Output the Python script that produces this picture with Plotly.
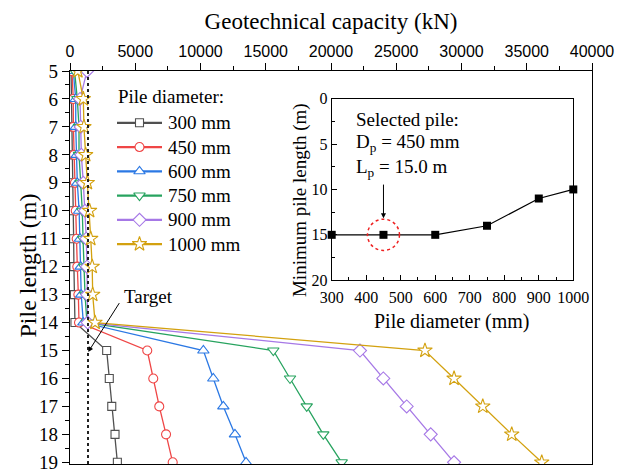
import plotly.graph_objects as go

# ---------------- data ----------------
pile_length_m = [5, 6, 7, 8, 9, 10, 11, 12, 13, 14, 15, 16, 17, 18, 19]
cap_300 = [80, 120, 150, 180, 200, 250, 280, 300, 340, 380, 2810, 3010, 3200, 3450, 3630]
cap_450 = [150, 250, 260, 310, 380, 440, 510, 560, 640, 690, 5920, 6380, 6840, 7360, 7870]
cap_600 = [250, 440, 440, 510, 560, 700, 770, 820, 860, 1020, 10220, 10980, 11750, 12640, 13490]
cap_750 = [350, 560, 690, 690, 820, 940, 1000, 1080, 1150, 1300, 15580, 16860, 18140, 19410, 20820]
cap_900 = [1300, 770, 820, 870, 1020, 1150, 1250, 1300, 1320, 1350, 22220, 24010, 25800, 27640, 29430]
cap_1000 = [600, 1020, 1070, 1200, 1330, 1500, 1590, 1700, 1740, 1920, 27200, 29430, 31630, 33850, 36150]
series_names = ["300 mm", "450 mm", "600 mm", "750 mm", "900 mm", "1000 mm"]
legend_title = "Pile diameter:"

target_kN = 1380
target_span_m = [5, 20]

inset_diameter_mm = [300, 450, 600, 750, 900, 1000]
inset_min_length_m = [15, 15, 15, 14, 11, 10]
selected_d = 450
selected_L = 15.0

# ---------------- styles ----------------
colors = ["#505050", "#ef4646", "#2b78e4", "#27a35f", "#a678e6", "#d3a10f"]
symbols = ["square", "circle", "triangle-up", "triangle-down", "diamond", "star"]
sizes = [8, 9, 10, 10, 10, 11]
SERIF = "Liberation Serif"
SANS = "Liberation Sans"

W, H = 626, 473
L_M, R_M, T_M, B_M = 70, 34, 71, 0
PW, PH = W - L_M - R_M, H - T_M - B_M


def px2paper(px, py):
    return (px - L_M) / PW, (H - py) / PH


fig = go.Figure()

all_caps = [cap_300, cap_450, cap_600, cap_750, cap_900, cap_1000]
for name, caps, c, s, sz in zip(series_names, all_caps, colors, symbols, sizes):
    fig.add_trace(go.Scatter(
        x=caps, y=pile_length_m, mode="lines+markers", name=name, showlegend=False,
        line=dict(color=c, width=1.3),
        marker=dict(symbol=s, size=sz, color="white", line=dict(color=c, width=1.1)),
        xaxis="x", yaxis="y",
    ))

# target line
fig.add_trace(go.Scatter(
    x=[target_kN, target_kN], y=target_span_m, mode="lines", showlegend=False,
    line=dict(color="#222222", width=2, dash="dot"), xaxis="x", yaxis="y",
))

# inset
fig.add_trace(go.Scatter(
    x=inset_diameter_mm, y=inset_min_length_m, mode="lines+markers", showlegend=False,
    line=dict(color="black", width=1.2),
    marker=dict(symbol="square", size=8, color="black"),
    xaxis="x2", yaxis="y2", cliponaxis=False,
))

# legend samples (drawn on a hidden helper axis)
leg_rows = list(range(len(series_names)))
for i, c, s, sz in zip(leg_rows, colors, symbols, sizes):
    fig.add_trace(go.Scatter(x=[0, 1], y=[i, i], mode="lines", showlegend=False,
                             line=dict(color=c, width=2.2), xaxis="x3", yaxis="y3"))
    fig.add_trace(go.Scatter(x=[0.5], y=[i], mode="markers", showlegend=False,
                             marker=dict(symbol=s, size=sz, color="white", line=dict(color=c, width=1.1)),
                             xaxis="x3", yaxis="y3"))

ix0, iy1 = px2paper(331.7, 99.3)
ix1, iy0 = px2paper(573.3, 285)
lx0, ly1 = px2paper(117, 124 - 12.4)
lx1, ly0 = px2paper(162, 248 + 12.4)

hidden = dict(visible=False, showgrid=False, zeroline=False, fixedrange=True)

fig.update_layout(
    width=W, height=H,
    margin=dict(l=L_M, r=R_M, t=T_M, b=B_M, pad=0),
    paper_bgcolor="white", plot_bgcolor="white",
    font=dict(family=SERIF, size=19, color="black"),
    showlegend=False,
    xaxis=dict(
        domain=[0, 1], range=[0, 40000], side="top", anchor="y",
        title=dict(text="Geotechnical capacity (kN)", font=dict(family=SERIF, size=23), standoff=6),
        tickmode="linear", tick0=0, dtick=5000, tickformat="d",
        tickfont=dict(family=SANS, size=16),
        ticks="outside", ticklen=7, tickwidth=1, tickcolor="black",
        minor=dict(dtick=2500, ticks="outside", ticklen=4, tickcolor="black"),
        showline=True, linecolor="black", linewidth=1.2, mirror=True,
        showgrid=False, zeroline=False,
    ),
    yaxis=dict(
        domain=[0, 1], range=[19.06, 5], anchor="x",
        tickmode="linear", tick0=5, dtick=1,
        tickfont=dict(family=SERIF, size=19),
        ticks="outside", ticklen=7, tickwidth=1, tickcolor="black",
        minor=dict(dtick=0.5, ticks="outside", ticklen=4, tickcolor="black"),
        showline=True, linecolor="black", linewidth=1.2, mirror=True,
        showgrid=False, zeroline=False,
    ),
    xaxis2=dict(
        domain=[ix0, ix1], range=[300, 1000], anchor="y2",
        tickmode="linear", tick0=300, dtick=100,
        tickfont=dict(family=SERIF, size=16), ticklabelstandoff=3,
        ticks="inside", ticklen=5, tickcolor="black",
        minor=dict(dtick=50, ticks="inside", ticklen=3, tickcolor="black"),
        showline=True, linecolor="black", linewidth=1, mirror=True,
        showgrid=False, zeroline=False,
    ),
    yaxis2=dict(
        domain=[iy0, iy1], range=[20, 0], anchor="x2",
        tickmode="linear", tick0=0, dtick=5,
        tickfont=dict(family=SERIF, size=16),
        ticks="inside", ticklen=5, tickcolor="black",
        minor=dict(dtick=2.5, ticks="inside", ticklen=3, tickcolor="black"),
        showline=True, linecolor="black", linewidth=1, mirror=True,
        showgrid=False, zeroline=False,
    ),
    xaxis3=dict(domain=[lx0, lx1], range=[0, 1], anchor="y3", **hidden),
    yaxis3=dict(domain=[ly0, ly1], range=[5.5, -0.5], anchor="x3", **hidden),
)

# axis titles placed as text
ax_, ay_ = px2paper(28, 270)
fig.add_annotation(xref="paper", yref="paper", x=ax_, y=ay_, text="Pile length (m)", textangle=-90,
                   showarrow=False, xanchor="center", yanchor="middle", font=dict(family=SERIF, size=24))
ax_, ay_ = px2paper(300, 203)
fig.add_annotation(xref="paper", yref="paper", x=ax_, y=ay_, text="Minimum pile length (m)", textangle=-90,
                   showarrow=False, xanchor="center", yanchor="middle", font=dict(family=SERIF, size=19))
ax_, ay_ = px2paper(452, 327)
fig.add_annotation(xref="paper", yref="paper", x=ax_, y=ay_, text="Pile diameter (mm)",
                   showarrow=False, xanchor="center", yanchor="middle", font=dict(family=SERIF, size=20))

# legend texts
tx, ty = px2paper(116, 97)
fig.add_annotation(xref="paper", yref="paper", x=tx, y=ty, text=legend_title, showarrow=False,
                   xanchor="left", yanchor="middle", font=dict(family=SERIF, size=19))
for i, name in zip(leg_rows, series_names):
    fig.add_annotation(xref="paper", yref="y3", x=px2paper(166, 0)[0], y=i, text=name, showarrow=False,
                       xanchor="left", yanchor="middle", font=dict(family=SERIF, size=19))

# dashed circle around selected pile (radius ~16 px)
rx = 16 * (1000 - 300) / ((ix1 - ix0) * PW)
ry = 16 * 20 / ((iy1 - iy0) * PH)
fig.add_shape(type="circle", xref="x2", yref="y2",
              x0=selected_d - rx, x1=selected_d + rx, y0=selected_L - ry, y1=selected_L + ry,
              line=dict(color="#ee2020", width=1.5, dash="dot"))

# inset arrow
fig.add_annotation(xref="x2", yref="y2", axref="x2", ayref="y2",
                   x=selected_d, y=selected_L - ry - 0.1, ax=selected_d, ay=selected_L - 5.7,
                   text="", showarrow=True, arrowhead=2, arrowsize=1, arrowwidth=1, arrowcolor="black")

# inset text
for txt, py in [("Selected pile:", 121), ("D<sub>p</sub> = 450 mm", 145), ("L<sub>p</sub> = 15.0 m", 170)]:
    xp, yp = px2paper(354, py)
    fig.add_annotation(xref="paper", yref="paper", x=xp, y=yp, xanchor="left", yanchor="middle",
                       text=txt, showarrow=False, font=dict(family=SERIF, size=19))

# target annotation
fig.add_annotation(xref="x", yref="y", axref="x", ayref="y",
                   x=target_kN + 20, y=15.05, ax=3850, ay=13.25,
                   text="", showarrow=True, arrowhead=2, arrowsize=1, arrowwidth=1, arrowcolor="black")
tx, ty = px2paper(122, 302)
fig.add_annotation(xref="paper", yref="paper", x=tx, y=ty, xanchor="left", yanchor="middle",
                   text="Target", showarrow=False, font=dict(family=SERIF, size=19))

fig.write_html("out.html")
